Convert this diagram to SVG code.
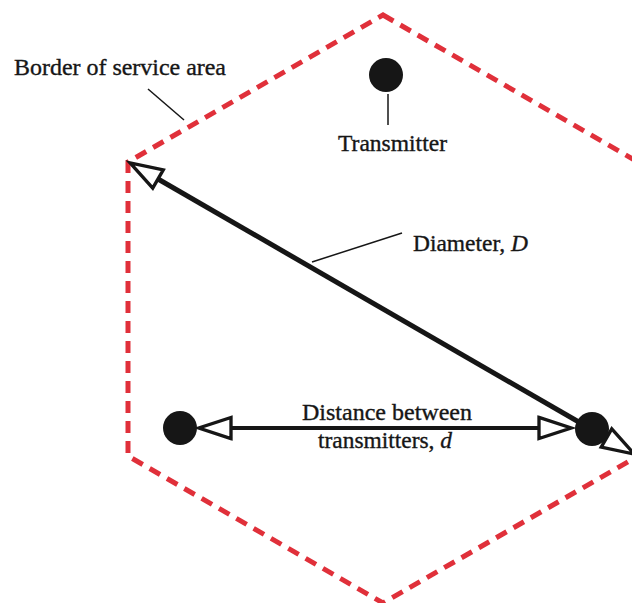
<svg xmlns="http://www.w3.org/2000/svg" width="632" height="603" viewBox="0 0 632 603">
  <style>
    .lbl { font-family: 'Liberation Serif', 'DejaVu Serif', serif; font-size: 23px; fill: #161616; stroke: #161616; stroke-width: 0.35; }
    .border { fill: none; stroke: #e0303a; stroke-width: 5; stroke-dasharray: 12 8; }
    .tx { fill: #161616; }
    .conn { stroke: #161616; fill: none; }
    .leader { stroke: #161616; stroke-width: 1.5; fill: none; }
  </style>
  <defs>
    <marker id="hollow" markerUnits="userSpaceOnUse" markerWidth="40" markerHeight="30" viewBox="-2 -12 36 24" refX="0" refY="0" orient="auto-start-reverse" overflow="visible">
      <path d="M0,-9.5 L29,0 L0,9.5 Z" fill="#ffffff" stroke="#161616" stroke-width="3" stroke-linejoin="miter"/>
    </marker>
  </defs>
  <rect width="632" height="603" fill="#ffffff"/>

  <g id="service-area">
    <polygon class="border" points="383,15 638,162 638,456 383,603 128,456 128,162"/>
  </g>

  <g id="connectors">
    <line class="conn" x1="158" y1="179" x2="606.5" y2="438" stroke-width="5" marker-start="url(#hollow)" marker-end="url(#hollow)"/>
    <line class="conn" x1="231" y1="428" x2="539" y2="428" stroke-width="4" marker-start="url(#hollow)" marker-end="url(#hollow)"/>
    <line class="leader" x1="148" y1="89" x2="184" y2="120"/>
    <line class="leader" x1="388" y1="94" x2="388" y2="125"/>
    <line class="leader" x1="402" y1="233" x2="312" y2="262"/>
  </g>

  <g id="transmitter-top">
    <circle class="tx" cx="386" cy="75" r="17"/>
  </g>
  <g id="transmitter-left">
    <circle class="tx" cx="180" cy="428" r="17"/>
  </g>
  <g id="transmitter-right">
    <circle class="tx" cx="592" cy="429" r="17"/>
  </g>

  <g id="labels">
    <text class="lbl" x="14" y="75" textLength="212" lengthAdjust="spacingAndGlyphs">Border of service area</text>
    <text class="lbl" x="338" y="151" textLength="109" lengthAdjust="spacingAndGlyphs">Transmitter</text>
    <text class="lbl" x="413" y="251" textLength="115" lengthAdjust="spacingAndGlyphs">Diameter, <tspan font-style="italic">D</tspan></text>
    <text class="lbl" x="302" y="420" textLength="170" lengthAdjust="spacingAndGlyphs">Distance between</text>
    <text class="lbl" x="318" y="448" textLength="134" lengthAdjust="spacingAndGlyphs">transmitters, <tspan font-style="italic">d</tspan></text>
  </g>
</svg>
